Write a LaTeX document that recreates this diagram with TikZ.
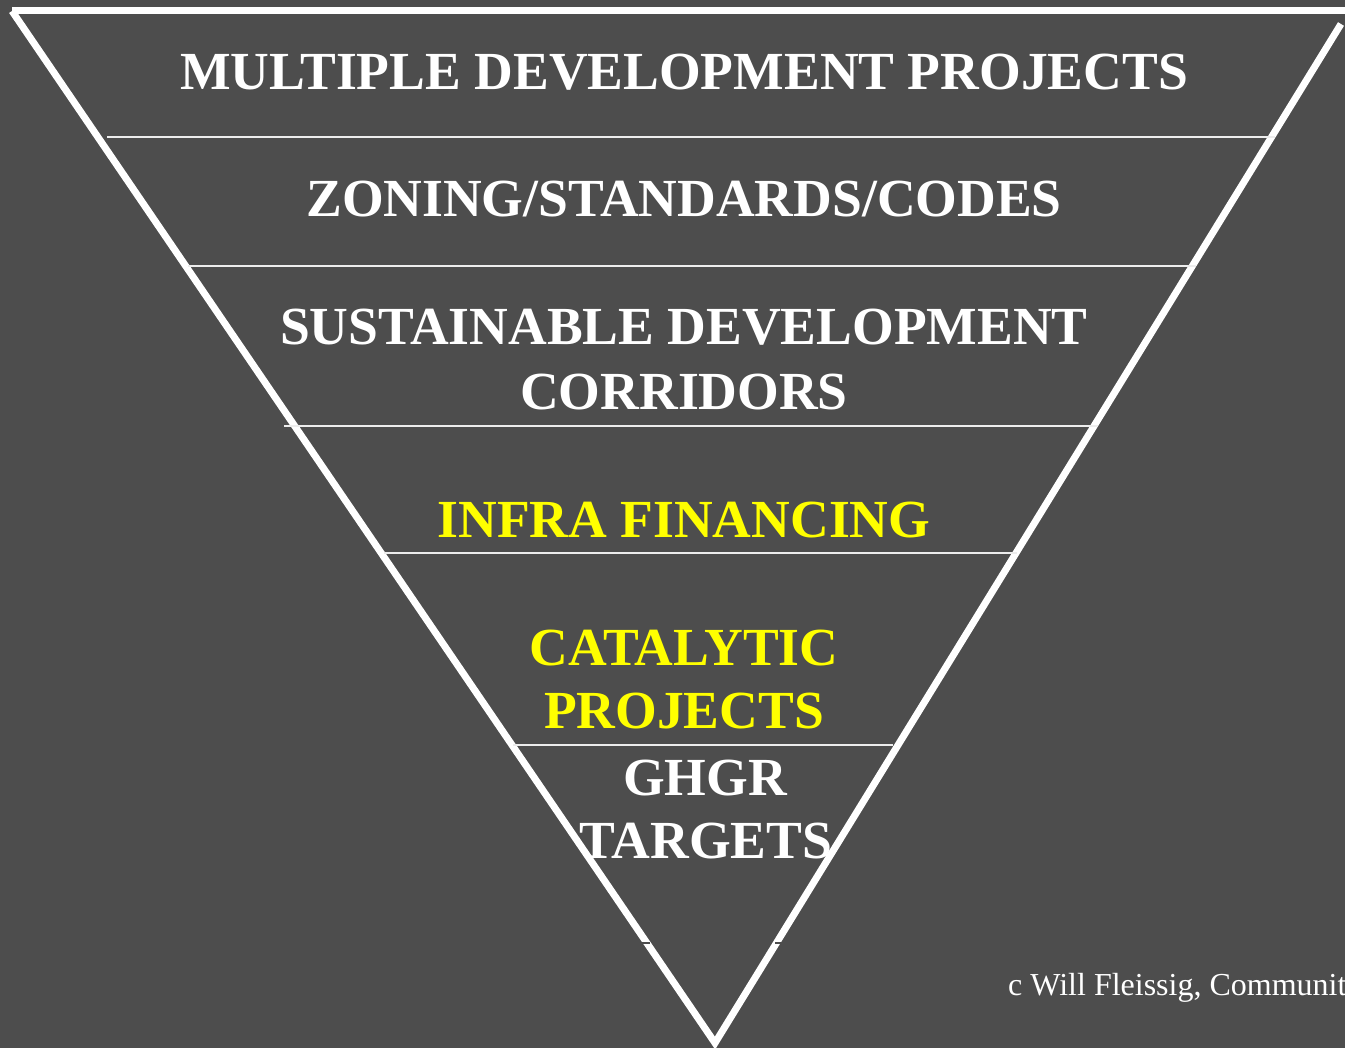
\documentclass[tikz,border=0pt]{standalone}
\usepackage{fontspec}
\setmainfont{Liberation Serif}
\definecolor{slate}{HTML}{4D4D4D}
\definecolor{hilite}{HTML}{FFFF00}
\begin{document}
\begin{tikzpicture}[x=1pt,y=-1pt,
  tier/.style={text=white,font=\fontsize{53.6}{65}\selectfont\bfseries,align=center,anchor=base,inner sep=0pt},
  hot/.style={tier,text=hilite},
  rim/.style={white,line width=7pt},
  divider/.style={white!90!slate,line width=1.6pt}]
\useasboundingbox[fill=slate] (0,0) rectangle (1345,1048);
% outline of the inverted triangle
\coordinate (tl) at (12,11);
\coordinate (tr) at (1345,11);
\coordinate (rt) at (1341,24);
\coordinate (apex) at (715,1043);
\draw[rim] (tl) -- (tr);
\draw[rim,line join=miter] (tl) -- (apex) -- (rt);
% horizontal dividers between the tiers
\foreach \y/\xa/\xb in {137/107/1275, 266/188/1196, 426/284/1098, 553/384/1017, 745/513/893}
  \draw[divider] (\xa,\y) -- (\xb,\y);
% small breaks in the sides near the tip
\draw[slate,line width=2pt] (630,943) -- (650,943);
\draw[slate,line width=2pt] (775,943) -- (795,943);
% tier labels
\node[tier] (t1) at (684,90) {MULTIPLE DEVELOPMENT PROJECTS};
\node[tier] (t2) at (684,217) {ZONING/STANDARDS/CODES};
\node[tier] (t3a) at (684,345) {SUSTAINABLE DEVELOPMENT};
\node[tier] (t3b) at (684,410) {CORRIDORS};
\node[hot] (t4) at (684,537) {INFRA FINANCING};
\node[hot] (t5a) at (684,665) {CATALYTIC};
\node[hot] (t5b) at (684,728) {PROJECTS};
\node[tier] (t6a) at (705,795) {GHGR};
\node[tier] (t6b) at (706,858) {TARGETS};
% credit line
\node[text=white,font=\fontsize{32}{36}\selectfont,anchor=base west,inner sep=0pt] (credit) at (1008,995) {c Will Fleissig, Communit};
\end{tikzpicture}
\end{document}
